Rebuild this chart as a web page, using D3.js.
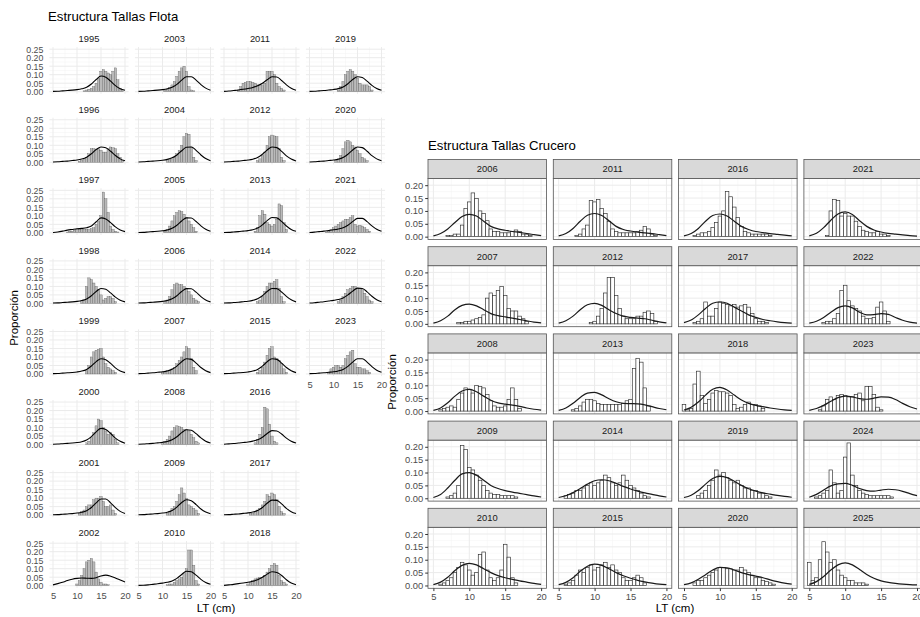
<!DOCTYPE html>
<html><head><meta charset="utf-8">
<script src="https://cdn.jsdelivr.net/npm/d3@7"></script>
<style>
body{margin:0;background:#fff}
svg text{font-family:"Liberation Sans",Arial,Helvetica,sans-serif}
</style>
</head><body>
<svg id="chart" width="920" height="617"></svg>
<script>
// ---------- data ----------
const lengthTicks = [5, 10, 15, 20];
const curveLengths = [5, 6, 7, 8, 9, 10, 11, 12, 13, 14, 15, 16, 17, 18, 19, 20];
const binWidth = 0.5;

// Fleet length structure (proportion by 0.5 cm class), first class in flotaBarFrom
const flotaYears = [1995,1996,1997,1998,1999,2000,2001,2002,2003,2004,2005,2006,2007,2008,2009,2010,
                    2011,2012,2013,2014,2015,2016,2017,2018,2019,2020,2021,2022,2023];
const flotaYTicks = [0, 0.05, 0.10, 0.15, 0.20, 0.25];
const flotaBarFrom = [11.5,10.5,8,11,12,12,10.5,10,10.5,11,10.5,10.5,10,10,11,11,
                      8,12,11.5,12,12,11.5,10.5,10,11,10.5,8.5,11,9];
const flotaBars = [
  [.005,.01,.015,.02,.03,.05,.08,.12,.13,.12,.11,.10,.12,.14,.07,.02,.005],
  [.005,.01,.02,.03,.05,.08,.08,.075,.08,.07,.06,.06,.08,.09,.085,.08,.05,.03,.01],
  [.005,.01,.01,.015,.02,.02,.02,.02,.02,.02,.025,.03,.05,.07,.10,.24,.20,.12,.04,.02,.01,.005],
  [.01,.02,.10,.15,.14,.12,.10,.08,.05,.02,.03,.04,.04,.03,.01],
  [.02,.05,.10,.13,.14,.145,.15,.10,.06,.04,.03,.02,.01],
  [.01,.02,.04,.07,.11,.15,.14,.10,.08,.06,.07,.06,.03,.01],
  [.01,.02,.03,.05,.06,.06,.09,.10,.10,.11,.08,.05,.05,.06,.03,.01],
  [.01,.03,.06,.10,.14,.15,.16,.14,.08,.04,.02,.01,.01,.005],
  [.01,.015,.025,.04,.06,.09,.12,.14,.15,.12,.03,.01,.005],
  [.01,.015,.02,.03,.05,.07,.10,.15,.17,.165,.09,.03,.01],
  [.01,.02,.04,.07,.10,.12,.13,.125,.11,.09,.07,.05,.03,.01],
  [.01,.02,.04,.08,.11,.12,.11,.11,.10,.09,.07,.05,.03,.02,.01],
  [.01,.01,.02,.02,.03,.04,.06,.08,.10,.13,.16,.15,.09,.04,.02],
  [.01,.02,.03,.05,.08,.10,.11,.105,.10,.09,.09,.08,.06,.04,.02,.01],
  [.01,.02,.04,.05,.08,.12,.16,.13,.10,.06,.05,.04,.03,.01],
  [.005,.01,.01,.02,.03,.04,.05,.07,.10,.21,.21,.12,.03,.01],
  [.01,.03,.05,.055,.06,.06,.055,.05,.04,.04,.04,.05,.12,.12,.12,.10,.05,.03,.02,.01],
  [.01,.02,.04,.06,.10,.15,.16,.155,.15,.08,.03,.01],
  [.01,.03,.10,.13,.11,.06,.05,.04,.05,.08,.17,.16,.06,.02],
  [.01,.02,.04,.07,.10,.12,.12,.13,.14,.09,.04,.01],
  [.01,.02,.04,.07,.11,.15,.16,.10,.09,.08,.06,.03,.01],
  [.01,.03,.06,.10,.22,.21,.12,.05,.02,.01],
  [.01,.01,.02,.03,.04,.06,.08,.12,.11,.13,.12,.09,.05,.02,.01],
  [.01,.02,.03,.04,.045,.05,.05,.06,.08,.10,.12,.13,.12,.06,.03,.02,.01],
  [.01,.03,.06,.10,.12,.13,.12,.10,.08,.05,.04,.04,.04,.03,.01],
  [.01,.02,.04,.08,.12,.13,.12,.10,.09,.07,.05,.03,.02,.01],
  [.005,.01,.02,.03,.04,.05,.06,.07,.08,.08,.09,.10,.05,.04,.045,.04,.03,.02,.01],
  [.01,.02,.04,.06,.08,.09,.10,.10,.09,.09,.08,.06,.04,.02,.01],
  [.01,.03,.04,.05,.05,.04,.05,.09,.11,.13,.14,.06,.04,.04,.03,.03,.02,.01]
];
// fitted model proportion at curveLengths
const flotaCurves = [
  [.002,.003,.005,.007,.009,.012,.017,.026,.045,.072,.092,.085,.062,.036,.018,.008],
  [.002,.003,.005,.007,.01,.013,.019,.03,.05,.075,.09,.085,.065,.04,.02,.009],
  [.002,.005,.01,.016,.02,.024,.026,.03,.04,.065,.088,.082,.06,.035,.017,.007],
  [.002,.003,.005,.007,.009,.012,.017,.026,.045,.07,.088,.083,.062,.037,.019,.009],
  [.002,.003,.005,.007,.009,.012,.017,.027,.047,.073,.09,.084,.062,.036,.018,.008],
  [.002,.003,.005,.007,.009,.012,.017,.027,.047,.075,.095,.088,.065,.038,.019,.008],
  [.002,.003,.005,.007,.009,.012,.017,.026,.045,.072,.095,.095,.072,.044,.022,.01],
  [.005,.012,.02,.03,.038,.043,.045,.044,.043,.047,.057,.062,.056,.045,.033,.022],
  [.002,.003,.005,.007,.009,.012,.017,.026,.043,.068,.088,.088,.068,.042,.021,.009],
  [.002,.003,.005,.007,.009,.012,.017,.026,.043,.068,.088,.09,.07,.043,.022,.009],
  [.002,.003,.005,.007,.009,.012,.017,.027,.045,.07,.088,.087,.067,.041,.021,.009],
  [.002,.003,.005,.007,.009,.012,.017,.027,.045,.07,.087,.086,.066,.04,.02,.009],
  [.002,.003,.005,.007,.01,.013,.018,.028,.046,.072,.09,.086,.064,.038,.019,.008],
  [.002,.003,.005,.007,.01,.013,.018,.028,.046,.07,.087,.084,.064,.039,.02,.009],
  [.002,.003,.005,.007,.009,.012,.017,.027,.047,.074,.09,.084,.062,.036,.018,.008],
  [.002,.003,.005,.008,.011,.015,.02,.028,.043,.066,.085,.082,.062,.037,.019,.008],
  [.002,.004,.007,.01,.014,.019,.025,.035,.05,.07,.088,.086,.066,.04,.02,.009],
  [.002,.003,.005,.007,.01,.013,.018,.028,.047,.072,.09,.086,.064,.038,.019,.008],
  [.002,.003,.005,.007,.01,.013,.018,.028,.047,.072,.09,.088,.067,.04,.02,.009],
  [.002,.003,.005,.007,.01,.013,.018,.027,.045,.07,.088,.087,.067,.041,.021,.009],
  [.002,.003,.005,.007,.009,.012,.017,.027,.046,.072,.09,.086,.064,.038,.019,.008],
  [.002,.004,.006,.009,.012,.015,.02,.028,.043,.065,.082,.08,.062,.038,.02,.009],
  [.002,.003,.005,.007,.01,.013,.018,.027,.045,.07,.088,.087,.066,.04,.02,.009],
  [.002,.005,.008,.012,.016,.02,.026,.035,.05,.068,.082,.078,.06,.035,.016,.006],
  [.002,.003,.005,.007,.01,.013,.018,.028,.047,.072,.088,.083,.062,.037,.019,.008],
  [.002,.003,.005,.007,.01,.013,.018,.028,.047,.072,.09,.086,.065,.039,.02,.009],
  [.002,.004,.007,.01,.014,.018,.023,.03,.045,.066,.085,.085,.066,.041,.021,.009],
  [.002,.004,.007,.01,.014,.018,.023,.032,.05,.072,.09,.088,.068,.042,.022,.01],
  [.002,.003,.005,.007,.01,.013,.018,.027,.045,.07,.09,.09,.07,.043,.022,.01]
];

// Survey (crucero) length structure
const cruceroYears = [2006,2007,2008,2009,2010,2011,2012,2013,2014,2015,
                      2016,2017,2018,2019,2020,2021,2022,2023,2024,2025];
const cruceroYTicks = [0, 0.05, 0.10, 0.15, 0.20];
const cruceroBarFrom = [7,8.5,6,7,6, 7.5,9.5,7,6,6, 6.5,6.5,5,7,6.5, 7.5,7,6.5,6,5];
const cruceroBars = [
  [.005,.005,.01,.01,.045,.11,.135,.17,.148,.10,.09,.062,.03,.02,.02,.015,.015,.015,.02,.026,.02,.01,.01,.005],
  [.005,.005,.01,.01,.015,.02,.025,.035,.10,.12,.11,.13,.145,.11,.06,.05,.05,.03,.02,.01],
  [.005,.01,.015,.02,.015,.045,.07,.09,.085,.07,.10,.095,.09,.065,.04,.02,.015,.015,.02,.045,.09,.045,.01],
  [.005,.01,.02,.05,.205,.19,.12,.11,.09,.07,.05,.03,.02,.015,.015,.01,.01,.01,.01,.005],
  [.005,.01,.02,.03,.05,.07,.09,.08,.06,.04,.05,.12,.13,.06,.03,.02,.03,.06,.16,.11,.03,.01],
  [.005,.01,.03,.045,.14,.135,.145,.11,.09,.06,.03,.02,.015,.015,.015,.015,.015,.02,.025,.04,.03,.01,.005],
  [.005,.01,.03,.06,.12,.18,.18,.11,.06,.03,.02,.02,.02,.03,.03,.045,.05,.04,.01],
  [.005,.01,.02,.035,.045,.045,.04,.03,.025,.025,.025,.025,.025,.025,.03,.04,.045,.165,.205,.19,.09,.02],
  [.01,.015,.02,.03,.03,.04,.05,.06,.05,.06,.07,.09,.08,.06,.05,.06,.09,.07,.05,.04,.03,.02,.01,.005],
  [.005,.01,.02,.04,.06,.05,.07,.08,.06,.07,.08,.09,.07,.08,.06,.05,.03,.02,.02,.03,.04,.03,.01],
  [.005,.01,.015,.015,.02,.035,.055,.08,.10,.175,.155,.115,.075,.04,.02,.015,.01,.01,.01,.01,.01,.005],
  [.005,.01,.02,.085,.03,.03,.06,.085,.08,.075,.07,.075,.065,.07,.075,.065,.04,.02,.01,.01,.005],
  [.025,.005,.01,.105,.155,.06,.03,.045,.07,.08,.075,.075,.07,.06,.025,.01,.015,.025,.035,.025,.025,.02,.01],
  [.01,.02,.03,.05,.07,.11,.09,.10,.08,.07,.06,.07,.05,.04,.04,.03,.03,.02,.02,.01,.005],
  [.01,.02,.02,.03,.04,.05,.06,.07,.07,.065,.065,.06,.06,.07,.06,.05,.04,.03,.03,.02,.015,.01,.005],
  [.005,.10,.145,.14,.08,.09,.08,.08,.06,.04,.025,.02,.015,.015,.02,.01,.01,.005],
  [.005,.01,.01,.02,.04,.13,.15,.09,.07,.06,.05,.03,.02,.02,.025,.065,.085,.05,.01],
  [.005,.02,.045,.055,.045,.06,.065,.06,.055,.055,.065,.07,.04,.095,.095,.065,.015,.005],
  [.005,.01,.02,.03,.11,.06,.02,.03,.16,.215,.09,.05,.03,.02,.015,.01,.01,.01,.01,.01,.01,.005],
  [.09,.02,.03,.10,.17,.13,.09,.10,.06,.04,.03,.02,.02,.01,.01,.01,.005]
];
const cruceroCurves = [
  [.003,.012,.03,.055,.078,.087,.08,.06,.04,.03,.025,.02,.017,.012,.008,.004],
  [.003,.012,.03,.055,.072,.077,.07,.055,.04,.032,.027,.022,.017,.012,.007,.004],
  [.003,.012,.032,.058,.078,.084,.075,.058,.042,.032,.027,.023,.018,.012,.007,.004],
  [.003,.015,.04,.07,.095,.10,.09,.07,.05,.038,.03,.024,.019,.014,.009,.005],
  [.003,.013,.032,.058,.078,.086,.08,.065,.05,.038,.03,.024,.018,.013,.008,.004],
  [.003,.012,.032,.06,.083,.09,.082,.062,.04,.028,.022,.018,.015,.012,.008,.004],
  [.003,.012,.03,.055,.074,.08,.072,.055,.04,.03,.025,.022,.02,.014,.008,.004],
  [.003,.012,.03,.053,.07,.073,.063,.048,.036,.03,.029,.028,.024,.017,.01,.005],
  [.003,.01,.022,.038,.055,.068,.072,.068,.058,.046,.036,.028,.021,.015,.009,.005],
  [.003,.012,.03,.055,.075,.083,.078,.065,.05,.038,.028,.02,.014,.009,.005,.003],
  [.003,.012,.032,.06,.082,.088,.08,.06,.04,.028,.02,.016,.012,.009,.006,.003],
  [.005,.015,.035,.06,.08,.085,.08,.065,.05,.035,.025,.017,.012,.008,.005,.003],
  [.004,.015,.035,.062,.085,.092,.082,.062,.043,.03,.022,.017,.012,.008,.005,.003],
  [.003,.012,.03,.055,.077,.085,.08,.066,.05,.037,.028,.021,.016,.011,.007,.004],
  [.003,.01,.024,.042,.06,.07,.068,.06,.05,.042,.036,.03,.022,.015,.009,.005],
  [.003,.013,.035,.064,.088,.096,.086,.062,.04,.026,.018,.013,.01,.007,.004,.002],
  [.003,.01,.025,.045,.063,.07,.062,.045,.035,.036,.04,.037,.025,.014,.007,.003],
  [.003,.01,.022,.038,.052,.058,.055,.048,.046,.05,.055,.054,.045,.03,.017,.008],
  [.004,.015,.032,.048,.056,.058,.05,.038,.03,.028,.032,.035,.033,.027,.018,.01],
  [.004,.015,.035,.06,.08,.088,.08,.062,.043,.028,.018,.012,.008,.005,.003,.002]
];

// ---------- drawing ----------
const svg = d3.select("#chart");
const tickGrey = "#4d4d4d";

function barsOf(from, vals) {
  return vals.map((v, k) => ({ len: from + k * binWidth, p: v }));
}
function curveOf(vals) {
  return vals.map((v, k) => [curveLengths[k], v]);
}
function grid(g, x, y, xMinor, yMajor, yMinor, color, minorColor) {
  const [x0, x1] = x.range(), [y0, y1] = y.range();
  g.selectAll(null).data(xMinor).join("line")
    .attr("x1", d => x(d)).attr("x2", d => x(d)).attr("y1", y0).attr("y2", y1)
    .attr("stroke", minorColor).attr("stroke-width", 0.5);
  g.selectAll(null).data(yMinor).join("line")
    .attr("x1", x0).attr("x2", x1).attr("y1", d => y(d)).attr("y2", d => y(d))
    .attr("stroke", minorColor).attr("stroke-width", 0.5);
  g.selectAll(null).data(lengthTicks).join("line")
    .attr("x1", d => x(d)).attr("x2", d => x(d)).attr("y1", y0).attr("y2", y1)
    .attr("stroke", color).attr("stroke-width", 1);
  g.selectAll(null).data(yMajor).join("line")
    .attr("x1", x0).attr("x2", x1).attr("y1", d => y(d)).attr("y2", d => y(d))
    .attr("stroke", color).attr("stroke-width", 1);
}
const lineGen = (x, y) => d3.line().x(d => x(d[0])).y(d => y(d[1])).curve(d3.curveMonotoneX);

// ===== Estructura Tallas Flota =====
const F = { x5: [53, 138.5, 224, 309.5], pxcm: 4.8, base0: 91.7, rowStep: 70.57, pxu: 170, rows: 8 };
svg.append("text").attr("x", 48).attr("y", 21).attr("font-size", 13.2).attr("fill", "#000")
  .text("Estructura Tallas Flota");

flotaYears.forEach((yr, i) => {
  const c = Math.floor(i / F.rows), r = i % F.rows;
  const base = F.base0 + F.rowStep * r;
  const x = d3.scaleLinear().domain([4.25, 20.75])
    .range([F.x5[c] - 0.75 * F.pxcm, F.x5[c] + 15.75 * F.pxcm]);
  const y = d3.scaleLinear().domain([-0.0125, 0.2625])
    .range([base + 0.0125 * F.pxu, base - 0.2625 * F.pxu]);
  const g = svg.append("g");
  grid(g, x, y, [7.5, 12.5, 17.5], flotaYTicks, [0.025, 0.075, 0.125, 0.175, 0.225], "#ebebeb", "#f3f3f3");

  g.selectAll("rect").data(barsOf(flotaBarFrom[i], flotaBars[i])).join("rect")
    .attr("x", d => x(d.len - binWidth / 2)).attr("width", d => x(d.len + binWidth / 2) - x(d.len - binWidth / 2))
    .attr("y", d => y(d.p)).attr("height", d => y(0) - y(d.p))
    .attr("fill", "#bababa").attr("stroke", "#4a4a4a").attr("stroke-width", 0.3);

  g.append("path").datum(curveOf(flotaCurves[i])).attr("d", lineGen(x, y))
    .attr("fill", "none").attr("stroke", "#000").attr("stroke-width", 1.1);

  g.append("text").attr("x", (x.range()[0] + x.range()[1]) / 2).attr("y", base - 49.5)
    .attr("text-anchor", "middle").attr("font-size", 9.4).attr("fill", "#1a1a1a").text(yr);

  if (c === 0) {
    const ax = g.append("g").attr("transform", `translate(${x.range()[0] - 3.5},0)`)
      .call(d3.axisLeft(y).tickValues(flotaYTicks).tickFormat(d3.format(".2f")).tickSize(0).tickPadding(2.5));
    ax.select(".domain").remove();
    ax.selectAll("text").attr("font-size", 8.8).attr("fill", tickGrey).attr("font-family", null);
  }
  const lastInCol = (r === F.rows - 1) || (i === flotaYears.length - 1);
  if (lastInCol) {
    const ax = g.append("g").attr("transform", `translate(0,${y.range()[0] + 2})`)
      .call(d3.axisBottom(x).tickValues(lengthTicks).tickSize(0).tickPadding(3));
    ax.select(".domain").remove();
    ax.selectAll("text").attr("font-size", 9.4).attr("fill", tickGrey).attr("font-family", null);
  }
});
svg.append("text").attr("transform", "translate(18,318) rotate(-90)").attr("text-anchor", "middle")
  .attr("font-size", 11.5).attr("fill", "#000").text("Proporción");
svg.append("text").attr("x", 216).attr("y", 612).attr("text-anchor", "middle")
  .attr("font-size", 11.5).attr("fill", "#000").text("LT (cm)");

// ===== Estructura Tallas Crucero =====
const C = { left0: 428, colStep: 125.3, width: 118.5, strip0: 159.5, rowStep: 87.2, stripH: 19, panelH: 61, rows: 5 };
svg.append("text").attr("x", 428).attr("y", 150).attr("font-size", 13.2).attr("fill", "#000")
  .text("Estructura Tallas Crucero");

cruceroYears.forEach((yr, i) => {
  const c = Math.floor(i / C.rows), r = i % C.rows;
  const L = C.left0 + C.colStep * c;
  const S = C.strip0 + C.rowStep * r;
  const top = S + C.stripH, bottom = top + C.panelH;
  const x = d3.scaleLinear().domain([4.25, 20.75]).range([L, L + C.width]);
  const y = d3.scaleLinear().domain([-0.011, 0.226]).range([bottom, top]);
  const g = svg.append("g");
  g.append("rect").attr("x", L).attr("y", top).attr("width", C.width).attr("height", C.panelH).attr("fill", "#fff");
  grid(g, x, y, [7.5, 12.5, 17.5], cruceroYTicks, [0.025, 0.075, 0.125, 0.175], "#ebebeb", "#f2f2f2");

  g.selectAll("rect.bar").data(barsOf(cruceroBarFrom[i], cruceroBars[i])).join("rect").attr("class", "bar")
    .attr("x", d => x(d.len - binWidth / 2)).attr("width", d => x(d.len + binWidth / 2) - x(d.len - binWidth / 2))
    .attr("y", d => y(d.p)).attr("height", d => y(0) - y(d.p))
    .attr("fill", "#fff").attr("stroke", "#2a2a2a").attr("stroke-width", 0.65);

  g.append("path").datum(curveOf(cruceroCurves[i])).attr("d", lineGen(x, y))
    .attr("fill", "none").attr("stroke", "#1a1a1a").attr("stroke-width", 1.2);

  g.append("rect").attr("x", L).attr("y", top).attr("width", C.width).attr("height", C.panelH)
    .attr("fill", "none").attr("stroke", "#555").attr("stroke-width", 0.8);
  g.append("rect").attr("x", L).attr("y", S).attr("width", C.width).attr("height", C.stripH)
    .attr("fill", "#d9d9d9").attr("stroke", "#555").attr("stroke-width", 0.8);
  g.append("text").attr("x", L + C.width / 2).attr("y", S + C.stripH / 2 + 3.4)
    .attr("text-anchor", "middle").attr("font-size", 9.4).attr("fill", "#1a1a1a").text(yr);

  if (c === 0) {
    const ax = g.append("g").attr("transform", `translate(${L},0)`)
      .call(d3.axisLeft(y).tickValues(cruceroYTicks).tickFormat(d3.format(".2f")).tickSize(2.8).tickPadding(2));
    ax.select(".domain").remove();
    ax.selectAll("line").attr("stroke", "#333");
    ax.selectAll("text").attr("font-size", 9.4).attr("fill", tickGrey).attr("font-family", null);
  }
  if (r === C.rows - 1) {
    const ax = g.append("g").attr("transform", `translate(0,${bottom})`)
      .call(d3.axisBottom(x).tickValues(lengthTicks).tickSize(2.8).tickPadding(2));
    ax.select(".domain").remove();
    ax.selectAll("line").attr("stroke", "#333");
    ax.selectAll("text").attr("font-size", 9.4).attr("fill", tickGrey).attr("font-family", null);
  }
});
svg.append("text").attr("transform", "translate(396,382) rotate(-90)").attr("text-anchor", "middle")
  .attr("font-size", 11.5).attr("fill", "#000").text("Proporción");
svg.append("text").attr("x", 675).attr("y", 612).attr("text-anchor", "middle")
  .attr("font-size", 11.5).attr("fill", "#000").text("LT (cm)");
</script>
</body></html>
